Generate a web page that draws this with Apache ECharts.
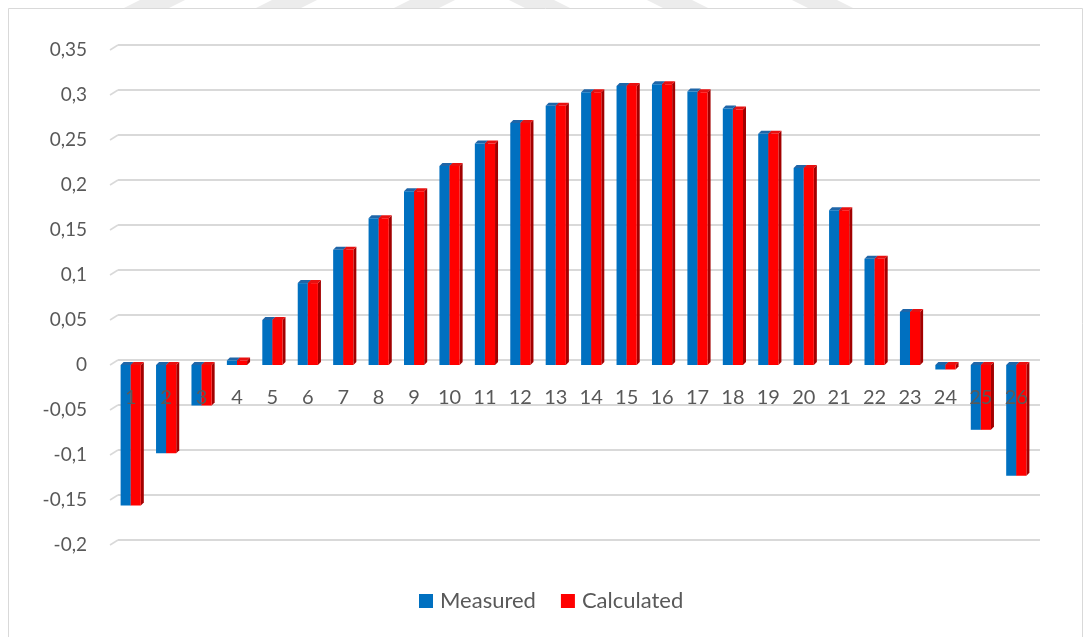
<!DOCTYPE html>
<html>
<head>
<meta charset="utf-8">
<script src="https://cdn.jsdelivr.net/npm/echarts@6/dist/echarts.min.js"></script>
<style>
  html, body { margin: 0; padding: 0; background: #ffffff; }
  #chart { width: 1084px; height: 637px; }
</style>
</head>
<body>
<div id="chart"></div>
<script>
// Hour index along the day
const categories = ['1','2','3','4','5','6','7','8','9','10','11','12','13','14','15','16','17','18','19','20','21','22','23','24','25','26'];

// Measured and calculated values per index
const measured = [-0.156, -0.098, -0.045, 0.005, 0.050, 0.091, 0.128, 0.163, 0.193, 0.221, 0.246, 0.269, 0.288, 0.303, 0.310, 0.312, 0.304, 0.285, 0.257, 0.219, 0.172, 0.118, 0.059, -0.005, -0.072, -0.123];
const calculated = [-0.156, -0.098, -0.045, 0.005, 0.050, 0.091, 0.128, 0.163, 0.193, 0.221, 0.246, 0.269, 0.288, 0.303, 0.310, 0.312, 0.303, 0.284, 0.257, 0.219, 0.172, 0.118, 0.059, -0.005, -0.072, -0.123];

// Value axis ticks
const yTicks = [-0.2, -0.15, -0.1, -0.05, 0, 0.05, 0.1, 0.15, 0.2, 0.25, 0.3, 0.35];

const FONT = 'Lato, "Open Sans", sans-serif';
const TEXT = '#595959';
const GRID_COLOR = '#d9d9d9';
const DEPTH = 3;
const Y_MIN = -0.2;
const Y_MAX = 0.35;
const PLOT_TOP = 50;
const PLOT_BOTTOM = 92;
const CHART_H = 637;

// Extruded bar: front face, top cap and right side face
function barRenderer(shift, colors) {
  return function (params, api) {
    const idx = api.value(0);
    const v = api.value(1);
    const base = api.coord([idx, 0]);
    const end = api.coord([idx, v]);
    const cw = api.size([1, 0])[0];
    const bw = cw * 0.285;
    const x0 = base[0] + shift * bw;
    const x1 = x0 + bw;
    const yTop = Math.min(base[1], end[1]);
    const yBot = Math.max(base[1], end[1]);
    const d = DEPTH;
    return {
      type: 'group',
      children: [
        {
          type: 'polygon',
          shape: { points: [[x1, yTop], [x1 + d, yTop - d], [x1 + d, yBot - d], [x1, yBot]] },
          style: { fill: colors.side }
        },
        {
          type: 'polygon',
          shape: { points: [[x0, yTop], [x1, yTop], [x1 + d, yTop - d], [x0 + d, yTop - d]] },
          style: { fill: colors.top }
        },
        {
          type: 'rect',
          shape: { x: x0, y: yTop, width: bw, height: yBot - yTop },
          style: { fill: colors.front }
        }
      ]
    };
  };
}

// Short slanted edge joining each gridline to the floor at the left
function slantRenderer(params, api) {
  const v = api.value(1);
  const p = api.coord([0, v]);
  const cw = api.size([1, 0])[0];
  const left = p[0] - cw / 2;
  return {
    type: 'line',
    shape: { x1: left - 3, y1: p[1], x2: left + 5, y2: p[1] - 5 },
    style: { stroke: GRID_COLOR, lineWidth: 1.5 }
  };
}

// Category axis sits on the zero line: shift it up from the plot bottom
const plotH = CHART_H - PLOT_TOP - PLOT_BOTTOM;
const zeroOffset = -plotH * (0 - Y_MIN) / (Y_MAX - Y_MIN);

const chart = echarts.init(document.getElementById('chart'), null, { renderer: 'canvas' });

// Faint diagonal bands along the top edge
const bands = [124, 256, 394, 525, 663, 808].map(function (x, i) {
  const lean = i < 3 ? 1 : -1;
  return {
    type: 'polygon',
    shape: { points: [[x, 8], [x + 45, 8], [x + 45 + lean * 16, 0], [x + lean * 16, 0]] },
    style: { fill: '#ececec' },
    z: -1
  };
});

chart.setOption({
  backgroundColor: '#ffffff',
  animation: false,
  graphic: bands.concat([
    {
      type: 'rect',
      shape: { x: 8.5, y: 8.5, width: 1074, height: 640 },
      style: { fill: null, stroke: '#d9d9d9', lineWidth: 1 },
      z: -1
    }
  ]),
  grid: [
    { left: 113, right: 50, top: PLOT_TOP, bottom: PLOT_BOTTOM },
    { left: 118, right: 44, top: PLOT_TOP - 5, bottom: PLOT_BOTTOM + 5 }
  ],
  legend: {
    data: ['Measured', 'Calculated'],
    left: 419,
    top: 590,
    padding: 0,
    icon: 'rect',
    itemWidth: 14,
    itemHeight: 14,
    itemGap: 25,
    textStyle: { color: TEXT, fontSize: 22, fontFamily: FONT, padding: [0, 0, 0, 2] }
  },
  xAxis: [
    {
      type: 'category',
      gridIndex: 0,
      data: categories,
      boundaryGap: true,
      position: 'bottom',
      offset: zeroOffset,
      z: 10,
      axisLine: { show: false, onZero: false },
      axisTick: { show: false },
      splitLine: { show: false },
      axisLabel: { interval: 0, margin: 23, color: TEXT, fontSize: 20, fontFamily: FONT }
    },
    {
      type: 'value',
      gridIndex: 1,
      min: 0,
      max: 1,
      show: false
    }
  ],
  yAxis: [
    {
      type: 'value',
      gridIndex: 0,
      min: Y_MIN,
      max: Y_MAX,
      interval: 0.05,
      axisLine: { show: false },
      axisTick: { show: false },
      splitLine: { show: false },
      axisLabel: {
        margin: 26,
        color: TEXT,
        fontSize: 19,
        fontFamily: FONT,
        formatter: function (v) { return String(+v.toFixed(2)).replace('.', ','); }
      }
    },
    {
      type: 'value',
      gridIndex: 1,
      min: Y_MIN,
      max: Y_MAX,
      interval: 0.05,
      axisLine: { show: false },
      axisTick: { show: false },
      axisLabel: { show: false },
      splitLine: { show: true, lineStyle: { color: GRID_COLOR, width: 2 } }
    }
  ],
  series: [
    {
      name: 'Gridline edges',
      type: 'custom',
      xAxisIndex: 0,
      yAxisIndex: 0,
      silent: true,
      clip: false,
      renderItem: slantRenderer,
      data: yTicks.map(function (v) { return [0, v]; }),
      z: 1
    },
    {
      name: 'Measured',
      type: 'custom',
      xAxisIndex: 0,
      yAxisIndex: 0,
      itemStyle: { color: '#0070C0' },
      renderItem: barRenderer(-1, { front: '#0070C0', top: '#1f66a8', side: '#00508a' }),
      encode: { x: 0, y: 1 },
      data: measured.map(function (v, i) { return [i, v]; }),
      z: 3
    },
    {
      name: 'Calculated',
      type: 'custom',
      xAxisIndex: 0,
      yAxisIndex: 0,
      itemStyle: { color: '#FF0000' },
      renderItem: barRenderer(0, { front: '#FF0000', top: '#e81010', side: '#a30000' }),
      encode: { x: 0, y: 1 },
      data: calculated.map(function (v, i) { return [i, v]; }),
      z: 4
    }
  ]
});
</script>
</body>
</html>
